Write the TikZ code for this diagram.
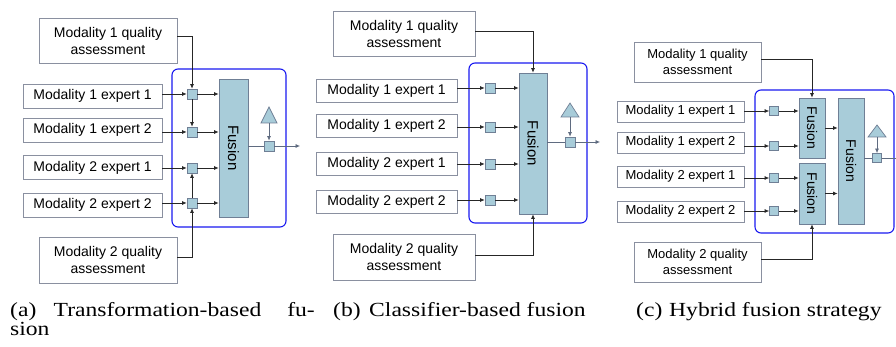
\documentclass[tikz,border=0pt]{standalone}
\usepackage{fontspec}
\setmainfont{Liberation Sans}
\newfontfamily\capfont[FakeStretch=1.18]{Liberation Serif}
\usetikzlibrary{arrows.meta,calc}
\definecolor{fusefill}{HTML}{A8CCD9}
\definecolor{fusedraw}{HTML}{6F7F95}
\definecolor{boxdraw}{HTML}{8A90A0}
\definecolor{bluebox}{HTML}{1A1AF0}
\definecolor{outline}{HTML}{5F6B80}
\begin{document}
\begin{tikzpicture}[x=1pt,y=-1pt,
 qbox/.style={draw=boxdraw,line width=0.9pt,fill=white,inner sep=0pt,align=center,font=\fontsize{14}{17}\selectfont},
 ebox/.style={draw=boxdraw,line width=0.9pt,fill=white,inner sep=0pt,font=\fontsize{14}{17}\selectfont},
 fusebox/.style={draw=fusedraw,line width=0.8pt,fill=fusefill,inner sep=0pt,font=\fontsize{15}{17}\selectfont},
 sq/.style={draw=fusedraw,line width=0.7pt,fill=fusefill,inner sep=0pt,minimum size=10pt},
 group/.style={draw=bluebox,line width=1.1pt,rounded corners=6pt},
 arr/.style={draw=black!85,line width=0.7pt,-{Latex[length=4.5pt,width=4pt]}},
 garr/.style={draw=outline,line width=0.7pt,-{Latex[length=4.5pt,width=4pt]}},
 gline/.style={draw=outline,line width=0.7pt},
 tri/.style={draw=fusedraw,line width=0.7pt,fill=fusefill},
 captext/.style={inner sep=0pt,font=\capfont\fontsize{20}{22}\selectfont}
]
\fill[white] (0,0) rectangle (896,347);
\useasboundingbox (0,0) rectangle (896,347);

% ---------------- Panel (a)
\draw[group] (172,69) rectangle (286,227);
\node[qbox,minimum width=138pt,minimum height=45pt] (aq1) at (108,40.5) {Modality 1 quality\\assessment};
\node[qbox,minimum width=138pt,minimum height=46pt] (aq2) at (108,260) {Modality 2 quality\\assessment};
\node[ebox,minimum width=139pt,minimum height=24pt] (ae1) at (92.5,96) {Modality 1 expert 1};
\node[ebox,minimum width=139pt,minimum height=24pt] (ae2) at (92.5,130) {Modality 1 expert 2};
\node[ebox,minimum width=139pt,minimum height=24pt] (ae3) at (92.5,167.5) {Modality 2 expert 1};
\node[ebox,minimum width=139pt,minimum height=24pt] (ae4) at (92.5,205) {Modality 2 expert 2};
\node[fusebox,minimum width=29pt,minimum height=138pt] (af) at (233.5,148) {\rotatebox{-90}{Fusion}};
\node[sq] (as1) at (192,94) {};
\node[sq] (as2) at (192,132) {};
\node[sq] (as3) at (192,168) {};
\node[sq] (as4) at (192,203) {};
\node[sq] (ao) at (269,146) {};
\filldraw[tri] (261,123) -- (269,107) -- (277,123) -- cycle;
\coordinate (atri) at (269,123);
\coordinate (aend) at (300,146);
\foreach \i in {1,2,3,4}{
  \draw[arr] (ae\i.east |- as\i) -- (as\i.west);
  \draw[arr] (as\i.east) -- (af.west |- as\i);
}
\draw[arr] ([yshift=4pt]aq1.east) -| (as1.north);
\draw[arr] (as1.south) -- (as2.north);
\draw[arr] ([yshift=3pt]aq2.east) -| (as4.south);
\draw[arr] (as4.north) -- (as3.south);
\draw[gline] (af.east |- ao) -- (ao.west);
\draw[garr] (ao.east) -- (aend);
\draw[garr] (atri) -- (ao.north);

% ---------------- Panel (b)
\draw[group] (469,63) rectangle (587,223);
\node[qbox,minimum width=142pt,minimum height=45pt] (bq1) at (404,33.5) {Modality 1 quality\\assessment};
\node[qbox,minimum width=142pt,minimum height=46pt] (bq2) at (404,257) {Modality 2 quality\\assessment};
\node[ebox,minimum width=141pt,minimum height=23pt] (be1) at (386.5,90.5) {Modality 1 expert 1};
\node[ebox,minimum width=141pt,minimum height=23pt] (be2) at (386.5,125.5) {Modality 1 expert 2};
\node[ebox,minimum width=141pt,minimum height=23pt] (be3) at (386.5,163.5) {Modality 2 expert 1};
\node[ebox,minimum width=141pt,minimum height=23pt] (be4) at (386.5,201.5) {Modality 2 expert 2};
\node[fusebox,minimum width=28pt,minimum height=141pt] (bf) at (533,143.5) {\rotatebox{-90}{Fusion}};
\node[sq] (bs1) at (490,88) {};
\node[sq] (bs2) at (490,127) {};
\node[sq] (bs3) at (490,164) {};
\node[sq] (bs4) at (490,200) {};
\node[sq] (bo) at (570,142) {};
\filldraw[tri] (561,117) -- (570,103) -- (579,117) -- cycle;
\coordinate (btri) at (570,117);
\coordinate (bend) at (600,142);
\foreach \i in {1,2,3,4}{
  \draw[arr] (be\i.east |- bs\i) -- (bs\i.west);
  \draw[arr] (bs\i.east) -- (bf.west |- bs\i);
}
\draw[arr] ([yshift=2.5pt]bq1.east) -| (bf.north);
\draw[arr] ([yshift=2pt]bq2.east) -| (bf.south);
\draw[gline] (bf.east |- bo) -- (bo.west);
\draw[garr] (bo.east) -- (bend);
\draw[garr] (btri) -- (bo.north);

% ---------------- Panel (c)
\draw[group] (755,90) rectangle (894,233);
\node[qbox,minimum width=127pt,minimum height=40pt,font=\fontsize{13}{16}\selectfont] (cq1) at (697.5,62) {Modality 1 quality\\assessment};
\node[qbox,minimum width=127pt,minimum height=40pt,font=\fontsize{13}{16}\selectfont] (cq2) at (697.5,262) {Modality 2 quality\\assessment};
\node[ebox,minimum width=127pt,minimum height=21pt,font=\fontsize{13}{16}\selectfont] (ce1) at (680.5,111.5) {Modality 1 expert 1};
\node[ebox,minimum width=127pt,minimum height=21pt,font=\fontsize{13}{16}\selectfont] (ce2) at (680.5,142.5) {Modality 1 expert 2};
\node[ebox,minimum width=127pt,minimum height=21pt,font=\fontsize{13}{16}\selectfont] (ce3) at (680.5,176.5) {Modality 2 expert 1};
\node[ebox,minimum width=127pt,minimum height=21pt,font=\fontsize{13}{16}\selectfont] (ce4) at (680.5,211.5) {Modality 2 expert 2};
\node[fusebox,minimum width=26pt,minimum height=60pt,font=\fontsize{14}{16}\selectfont] (cf1) at (812,128) {\rotatebox{-90}{Fusion}};
\node[fusebox,minimum width=26pt,minimum height=61pt,font=\fontsize{14}{16}\selectfont] (cf2) at (812,193.5) {\rotatebox{-90}{Fusion}};
\node[fusebox,minimum width=26pt,minimum height=126pt,font=\fontsize{14}{16}\selectfont] (cfb) at (851,161) {\rotatebox{-90}{Fusion}};
\node[sq,minimum size=9pt] (cs1) at (774,111) {};
\node[sq,minimum size=9pt] (cs2) at (774,146) {};
\node[sq,minimum size=9pt] (cs3) at (774,178) {};
\node[sq,minimum size=9pt] (cs4) at (774,211) {};
\node[sq,minimum size=9pt] (co) at (877,158) {};
\filldraw[tri] (868,137) -- (877,125) -- (886,137) -- cycle;
\coordinate (ctri) at (877,137);
\coordinate (cend) at (896,158);
\foreach \i in {1,2,3,4}{
  \draw[arr] (ce\i.east |- cs\i) -- (cs\i.west);
}
\draw[arr] (cs1.east) -- (cf1.west |- cs1);
\draw[arr] (cs2.east) -- (cf1.west |- cs2);
\draw[arr] (cs3.east) -- (cf2.west |- cs3);
\draw[arr] (cs4.east) -- (cf2.west |- cs4);
\draw[arr] (cf1.east) -- (cfb.west |- cf1);
\draw[arr] (cf2.east) -- (cfb.west |- cf2);
\draw[arr] ([yshift=3pt]cq1.east) -| (cf1.north);
\draw[arr] ([yshift=3pt]cq2.east) -| (cf2.south);
\draw[gline] (cfb.east |- co) -- (co.west);
\draw[gline] (co.east) -- (cend);
\draw[garr] (ctri) -- (co.north);

% ---------------- Captions
\node[captext,anchor=base west] (capa1) at (10,316) {(a)};
\node[captext,anchor=base] (capa2) at (157.5,316) {Transformation-based};
\node[captext,anchor=base east] (capa3) at (315,316) {fu-};
\node[captext,anchor=base west] (capa4) at (10,335) {sion};
\node[captext,anchor=base west] (capb1) at (333,316) {(b)};
\node[captext,anchor=base west] (capb2) at (369,316) {Classifier-based fusion};
\node[captext,anchor=base west] (capc1) at (636,316) {(c)};
\node[captext,anchor=base west] (capc2) at (669,316) {Hybrid fusion strategy};
\end{tikzpicture}
\end{document}
